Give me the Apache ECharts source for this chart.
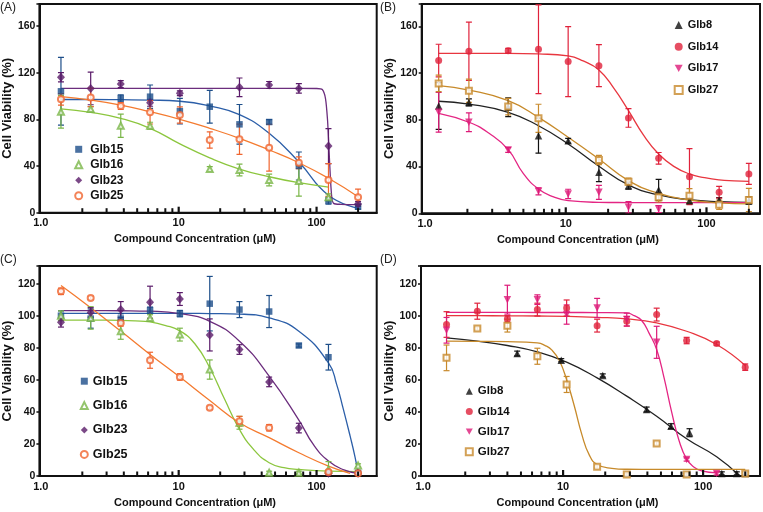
<!DOCTYPE html>
<html><head><meta charset="utf-8">
<script src="https://cdn.jsdelivr.net/npm/echarts@6/dist/echarts.min.js"></script>
<style>html,body{margin:0;padding:0;background:#fff}#c{width:763px;height:512px}</style>
</head><body><div id="c"></div>
<script>
// ---------- tick values ----------
const xMajorTicks = [10, 100];
const xLabelTicks = [1, 10, 100];
const xMinorTicks = [2,3,4,5,6,7,8,9,20,30,40,50,60,70,80,90,200];
const yTicksAB = [0, 40, 80, 120, 160];
const yTicksCD = [0, 20, 40, 60, 80, 100, 120];

// ---------- Panel A ----------
const concA = [1.4, 2.3, 3.8, 6.2, 10.2, 16.8, 27.6, 45.3, 74.4, 122, 200];
const A_Glb15 = [104, null, 98, 99.4, 87, 90.8, 75.7, 77.7, 40, 10.3, 5.1];
const A_Glb15_err = [29, null, 3, 10, 11, 14, 17, 2, 12, 3, 2];
const A_Glb16 = [86.5, 88.8, 74.5, 74.5, null, 37.4, 36.6, 28, 27.2, 13.2, null];
const A_Glb16_err = [14, 2, 10, 3, null, 2, 5, 5, 13, 3, null];
const A_Glb23 = [116, 106.5, 110.2, 94.2, 102.3, null, 107.4, 109.4, 106.5, 57.1, 7.5];
const A_Glb23_err = [4, 14, 3, 3, 2, null, 8, 3, 4, 15, 2];
const A_Glb25 = [97.1, 98.8, 91.4, 86, 83.7, 62.3, 62.9, 55.7, 42.8, 28, 13.2];
const A_Glb25_err = [5, 8, 3, 10, 7, 7, 13, 20, 5, 14, 7];
const A_fit15_x = [1.4, 2.3, 3.8, 6.2, 10.2, 16.8, 27.6, 45.3, 74.4, 122, 200];
const A_fit15_y = [97, 97, 96.8, 96.5, 95.5, 91.5, 84, 68, 43.5, 15, 3.7];
const A_fit16_x = [1.4, 2.3, 3.8, 6.2, 10.2, 16.8, 27.6, 45.3, 74.4, 122];
const A_fit16_y = [89, 86, 80.8, 72.3, 59, 47, 37.4, 30.8, 25.7, 22];
const A_fit23_x = [1.4, 2.3, 3.8, 6.2, 10.2, 16.8, 27.6, 45.3, 74.4, 100, 110, 116, 120, 123, 126, 129, 133, 150, 200];
const A_fit23_y = [106.5, 106.5, 106.5, 106.5, 106.5, 106.5, 106.5, 106.5, 106.5, 106.4, 105.5, 98, 80, 55, 30, 13, 8, 7.2, 7];
const A_fit25_x = [1.4, 2.3, 3.8, 6.2, 10.2, 16.8, 27.6, 45.3, 74.4, 122, 200];
const A_fit25_y = [99.4, 96.5, 92.2, 86.5, 80, 72.3, 63.7, 53.7, 42.8, 29.5, 13.7];

// ---------- Panel B ----------
const concB = [1.25, 2.05, 3.9, 6.4, 10.4, 17.2, 27.9, 45.7, 75.7, 123, 200];
const B_Glb8 = [91.9, 95, 90.8, 66.5, 62.2, 35.1, 23.7, 20, 10.8, 11.4, 10.8];
const B_Glb8_err = [20, 3, 8, 15, 2, 8, 3, 9, 2, 2, 3];
const B_Glb14 = [130.8, 138.8, 139.3, 140.5, 130, 126.5, 81.7, 47.1, 31.4, 18, 33.7];
const B_Glb14_err = [14, 25, 2, 38, 30, 18, 8, 5, 24, 5, 9];
const B_Glb17 = [86.5, 78, 54.2, 18.8, 16.6, 18, 5.1, 3.7, null, null, null];
const B_Glb17_err = [17, 8, 2, 3, 4, 6, 5, 3, null, null, null];
const B_Glb27 = [111.3, 105, 91.4, 81.4, null, 45.7, 27.1, 13.7, 15.1, 7.4, 11.4];
const B_Glb27_err = [7, 10, 7, 12, null, 4, 3, 4, 6, 4, 10];
const B_fit8_x = [1.25, 2.05, 3.9, 6.4, 10.4, 17.2, 27.9, 45.7, 75.7, 123, 200];
const B_fit8_y = [96, 93.6, 86.5, 75, 59.4, 40.3, 24.3, 15.7, 11.7, 10, 9.4];
const B_fit14_x = [1.25, 2.05, 3.9, 6.4, 10.4, 13.3, 17.2, 22, 27.9, 35.7, 45.7, 59, 75.7, 97, 123, 157, 200];
const B_fit14_y = [137, 137, 137, 136.5, 134.8, 130.5, 122.8, 107, 88, 67, 50.8, 40, 33.7, 30.5, 28.6, 27.8, 27.4];
const B_fit17_x = [1.25, 2.05, 2.85, 3.9, 5, 6.4, 8.2, 10.4, 17.2, 27.9, 45.7, 75.7, 123, 200];
const B_fit17_y = [85.6, 78, 68.5, 54.5, 34, 20.8, 14, 10.8, 9.4, 9.2, 9.1, 9.1, 9.1, 9.1];
const B_fit27_x = [1.25, 2.05, 3.9, 6.4, 10.4, 17.2, 27.9, 45.7, 75.7, 123, 200];
const B_fit27_y = [109.3, 105.6, 96.5, 82.2, 65.1, 46.5, 28, 17.1, 11.4, 8.9, 8];

// ---------- Panel C ----------
const concC = [1.4, 2.3, 3.8, 6.2, 10.2, 16.8, 27.6, 45.3, 74.4, 122, 200];
const C_Glb15 = [100, 98.2, 98.2, 103.4, 101.3, 107.5, 103.8, 102.6, 81.4, 74.1, 2];
const C_Glb15_err = [3, 6, 3, 2, 2, 17, 5, 10, 1, 8, 1];
const C_Glb16 = [100, 98.6, 90.3, 98.6, 88.2, 66.4, 33.2, 2, 2, 4, 6.6];
const C_Glb16_err = [3, 7, 5, 2, 4, 6, 4, 1, 1, 5, 1];
const C_Glb23 = [95.9, 102, 103.8, 108.4, 110.4, 88, 78.9, 58.7, 29.9, 1.7, 1.7];
const C_Glb23_err = [3, 3, 5, 10, 4, 10, 3, 3, 3, 1, 1];
const C_Glb25 = [115.2, 111.1, 95.5, 72.2, 61.8, 42.5, 34.2, 30.1, null, 2.5, 1.7];
const C_Glb25_err = [2, 1, 2, 5, 2, 1, 3, 2, null, 1, 1];
const C_fit15_x = [1.4, 2.3, 3.8, 6.2, 10.2, 16.8, 27.6, 45.3, 74.4, 122, 140, 156, 175, 190, 200];
const C_fit15_y = [101.5, 101.5, 101.5, 101.5, 101.5, 101.3, 101, 98.6, 90.3, 70.6, 57, 42, 25, 12, 2];
const C_fit16_x = [1.4, 2.3, 3.8, 4.85, 6.2, 7.95, 10.2, 13.1, 16.8, 21.5, 27.6, 35.4, 45.3, 58, 74.4, 122, 200];
const C_fit16_y = [97.2, 97.2, 97.1, 96.8, 96.1, 94, 90.5, 82.5, 67.5, 48, 29, 16, 8.3, 5.2, 4.1, 3, 2.7];
const C_fit23_x = [1.4, 2.3, 3.8, 6.2, 10.2, 16.8, 27.6, 45.3, 74.4, 95, 122, 156, 200];
const C_fit23_y = [103.2, 103.2, 103.1, 102.8, 101.3, 96.5, 84.1, 62.3, 34.9, 19.5, 9.3, 4, 1.7];
const C_fit25_x = [1.4, 2.3, 3.8, 6.2, 10.2, 16.8, 27.6, 45.3, 74.4, 122, 175];
const C_fit25_y = [118.8, 105, 90.4, 75.8, 61.7, 47.1, 33.2, 23.9, 14.5, 6.2, 1.7];

// ---------- Panel D ----------
const concD = [1.47, 2.44, 4.0, 6.55, 10.6, 17.5, 28.5, 46.6, 76.3, 125, 200];
const concD8 = [4.7, 9.7, 19.2, 39.5, 59, 80, 136, 174, 200];
const D_Glb8 = [76.4, 72.2, 62.7, 41.5, 31.1, 27, 1.6, 1.6, 1.6];
const D_Glb8_err = [1.5, 1, 1, 1.5, 1.5, 2.5, 1, 1, 1];
const D_Glb14 = [94.5, 102.8, 98, 103.8, 104.8, 93.8, 96.5, 100.7, 84.5, 82.6, 67.9];
const D_Glb14_err = [8, 5, 2, 4, 5, 4, 3, 4, 2, 1, 2];
const D_Glb17 = [90.9, null, 110, 110, 100.7, 104.8, 97.6, 83.4, 10.3, 1.6, null];
const D_Glb17_err = [8, null, 9, 3, 6, 6, 4, 10, 1, 1, null];
const D_Glb27 = [73.7, 92, 93.8, 74.7, 57.1, 5.8, 1, 20.3, 1, null, 1.6];
const D_Glb27_err = [8, 1, 4, 5, 5, 1, 0.5, 1, 0.5, null, 1];
const D_fit8_x = [1.47, 2.44, 4.0, 6.55, 10.6, 17.5, 28.5, 46.6, 76.3, 125, 183];
const D_fit8_y = [86.1, 84.1, 81.4, 77.4, 71, 61.2, 49.8, 37.3, 23.2, 12, 0];
const D_fit14_x = [1.47, 2.44, 4.0, 6.55, 10.6, 17.5, 28.5, 46.6, 76.3, 125, 200];
const D_fit14_y = [100, 100, 99.9, 99.8, 99.6, 99, 98, 95.5, 90.3, 82, 68.9];
const D_fit17_x = [1.47, 2.44, 4.0, 6.55, 10.6, 17.5, 28.5, 32.2, 36.4, 41.2, 46.6, 52.7, 59.6, 67.4, 76.3, 86.3, 97.6, 125];
const D_fit17_y = [102.1, 102.1, 102.1, 102, 102, 101.9, 101.7, 100, 97, 89, 78.9, 61, 40, 22, 10.5, 5.5, 3.2, 2];
const D_fit27_x = [1.47, 2.44, 4.0, 6.55, 7.4, 8.33, 9.4, 10.6, 12, 13.6, 15.4, 17.5, 22.3, 28.5, 46.6, 76.3, 125, 200];
const D_fit27_y = [84.1, 84, 83.8, 83, 81.5, 78.5, 72, 60, 44, 26, 13, 7.2, 4.8, 4.2, 4.1, 4.1, 4.1, 4.1];

// ---------- styles ----------
const FONT = '"Liberation Sans", Arial, sans-serif';
const STY = {
  Glb15: {color: '#1d4e89', fit: '#2b5ea8', symbol: 'rect', size: 6.5},
  Glb16: {color: '#7ab648', fit: '#8cc63e', symbol: 'emptyTriangle', size: 6},
  Glb23: {color: '#5a1b69', fit: '#6b2d7d', symbol: 'diamond', size: [8, 9]},
  Glb25: {color: '#f0652f', fit: '#f47b30', symbol: 'emptyCircle', size: 6},
  Glb8:  {color: '#111111', fit: '#222222', symbol: 'triangle', size: 7.5},
  Glb14: {color: '#e0223b', fit: '#e8363f', symbol: 'circle', size: 7},
  Glb17: {color: '#dd1a78', fit: '#e42583', symbol: 'triangle', size: 7.5, rotate: 180},
  Glb27: {color: '#c88a2c', fit: '#c78a2a', symbol: 'emptyRect', size: 6}
};
const SMOOTH = {A23: 0.25};

function zip(xs, ys) { const o = []; for (let i = 0; i < xs.length; i++) if (ys[i] != null) o.push([xs[i], ys[i]]); return o; }
function zip3(xs, ys, es) { const o = []; for (let i = 0; i < xs.length; i++) if (ys[i] != null && es[i] != null) o.push([xs[i], ys[i], es[i]]); return o; }

function errRender(color) {
  return function (params, api) {
    const x = api.value(0), y = api.value(1), e = api.value(2);
    const p1 = api.coord([x, y + e]), p2 = api.coord([x, y - e]);
    const w = 3, st = {stroke: color, lineWidth: 1.2};
    return {type: 'group', children: [
      {type: 'line', shape: {x1: p1[0], y1: p1[1], x2: p2[0], y2: p2[1]}, style: st},
      {type: 'line', shape: {x1: p1[0] - w, y1: p1[1], x2: p1[0] + w, y2: p1[1]}, style: st},
      {type: 'line', shape: {x1: p2[0] - w, y1: p2[1], x2: p2[0] + w, y2: p2[1]}, style: st}
    ]};
  };
}
function tickRender(len, width) {
  return function (params, api) {
    const p = api.coord([api.value(0), api.value(1)]);
    return {type: 'rect', shape: {x: p[0] - width / 2, y: p[1] - len, width: width, height: len},
      style: {fill: '#111'}};
  };
}

const series = [];
function addCompound(gi, key, name, xs, ys, es, fx, fy) {
  const st = STY[name];
  series.push({type: 'line', name: name + '-fit-' + gi, xAxisIndex: gi * 2, yAxisIndex: gi,
    data: zip(fx, fy), symbol: 'none', smooth: SMOOTH[key] != null ? SMOOTH[key] : 0.5,
    lineStyle: {color: st.fit, width: 1.3}, z: 2, silent: true});
  series.push({type: 'custom', name: name + '-err-' + gi, xAxisIndex: gi * 2, yAxisIndex: gi,
    data: zip3(xs, ys, es), renderItem: errRender(st.color), clip: true, z: 3, silent: true});
  series.push({type: 'scatter', name: name, xAxisIndex: gi * 2, yAxisIndex: gi,
    data: zip(xs, ys), symbol: st.symbol, symbolSize: st.size, symbolRotate: st.rotate || 0,
    itemStyle: {color: st.color, borderColor: st.color, borderWidth: st.symbol.indexOf('empty') === 0 ? 1 : 0},
    z: 4, clip: true});
}

addCompound(0, 'A15', 'Glb15', concA, A_Glb15, A_Glb15_err, A_fit15_x, A_fit15_y);
addCompound(0, 'A16', 'Glb16', concA, A_Glb16, A_Glb16_err, A_fit16_x, A_fit16_y);
addCompound(0, 'A23', 'Glb23', concA, A_Glb23, A_Glb23_err, A_fit23_x, A_fit23_y);
addCompound(0, 'A25', 'Glb25', concA, A_Glb25, A_Glb25_err, A_fit25_x, A_fit25_y);
addCompound(1, 'B8', 'Glb8', concB, B_Glb8, B_Glb8_err, B_fit8_x, B_fit8_y);
addCompound(1, 'B14', 'Glb14', concB, B_Glb14, B_Glb14_err, B_fit14_x, B_fit14_y);
addCompound(1, 'B17', 'Glb17', concB, B_Glb17, B_Glb17_err, B_fit17_x, B_fit17_y);
addCompound(1, 'B27', 'Glb27', concB, B_Glb27, B_Glb27_err, B_fit27_x, B_fit27_y);
addCompound(2, 'C15', 'Glb15', concC, C_Glb15, C_Glb15_err, C_fit15_x, C_fit15_y);
addCompound(2, 'C16', 'Glb16', concC, C_Glb16, C_Glb16_err, C_fit16_x, C_fit16_y);
addCompound(2, 'C23', 'Glb23', concC, C_Glb23, C_Glb23_err, C_fit23_x, C_fit23_y);
addCompound(2, 'C25', 'Glb25', concC, C_Glb25, C_Glb25_err, C_fit25_x, C_fit25_y);
addCompound(3, 'D8', 'Glb8', concD8, D_Glb8, D_Glb8_err, D_fit8_x, D_fit8_y);
addCompound(3, 'D14', 'Glb14', concD, D_Glb14, D_Glb14_err, D_fit14_x, D_fit14_y);
addCompound(3, 'D17', 'Glb17', concD, D_Glb17, D_Glb17_err, D_fit17_x, D_fit17_y);
addCompound(3, 'D27', 'Glb27', concD, D_Glb27, D_Glb27_err, D_fit27_x, D_fit27_y);

const GRIDS = [
  {left: 36, top: 4, width: 340.7, height: 208.7, xmin: 0.977, xmax: 273, ymax: 178.8, yi: 40, yt: yTicksAB},
  {left: 421.7, top: 4, width: 338.3, height: 209.3, xmin: 0.947, xmax: 240, ymax: 179.3, yi: 40, yt: yTicksAB},
  {left: 36, top: 266, width: 340.7, height: 210, xmin: 0.977, xmax: 273, ymax: 131, yi: 20, yt: yTicksCD},
  {left: 421, top: 266, width: 339, height: 210, xmin: 0.966, xmax: 255, ymax: 131, yi: 20, yt: yTicksCD}
];

const grid = [], xAxis = [], yAxis = [];
GRIDS.forEach(function (g, i) {
  grid.push({left: g.left, top: g.top, width: g.width, height: g.height, show: true,
    borderColor: '#111', borderWidth: 2, backgroundColor: 'transparent', containLabel: false});
  xAxis.push({type: 'log', logBase: 10, gridIndex: i, min: g.xmin, max: g.xmax, position: 'bottom',
    name: 'Compound Concentration (μM)', nameLocation: 'middle', nameGap: 21,
    nameTextStyle: {fontFamily: FONT, fontSize: 11, fontWeight: 'bold', color: '#111', padding: [0, 26, 0, 0]},
    axisLine: {show: true, lineStyle: {color: '#111', width: 2}},
    axisTick: {show: false},
    axisLabel: {show: true, customValues: xLabelTicks, margin: 5, fontFamily: FONT, fontSize: 11, fontWeight: 'bold', color: '#111',
      formatter: function (v) { return Math.abs(v - 1) < 1e-6 ? '1.0' : String(Math.round(v)); }},
    splitLine: {show: false}});
  xAxis.push({type: 'log', logBase: 10, gridIndex: i, min: g.xmin, max: g.xmax, position: 'bottom', show: false});
  yAxis.push({type: 'value', gridIndex: i, min: 0, max: g.ymax, interval: g.yi,
    name: 'Cell Viability (%)', nameLocation: 'middle', nameGap: 20,
    nameTextStyle: {fontFamily: FONT, fontSize: 13, fontWeight: 'bold', color: '#111'},
    axisLine: {show: true, lineStyle: {color: '#111', width: 2}},
    axisTick: {show: true, inside: false, length: 3, lineStyle: {color: '#111', width: 1.5}},
    axisLabel: {customValues: g.yt, margin: 4, fontFamily: FONT, fontSize: 10.5, fontWeight: 'bold', color: '#111'},
    splitLine: {show: false}});
  // x-axis tick marks, positioned through the log axis from the tick arrays
  series.push({type: 'custom', name: 'minorTicks' + i, xAxisIndex: i * 2, yAxisIndex: i, silent: true,
    data: xMinorTicks.map(function (v) { return [v, 0]; }), renderItem: tickRender(4.5, 2), clip: false, z: 8});
  series.push({type: 'custom', name: 'majorTicks' + i, xAxisIndex: i * 2, yAxisIndex: i, silent: true,
    data: xMajorTicks.map(function (v) { return [v, 0]; }), renderItem: tickRender(6, 2.2), clip: false, z: 8});
});

const TRI_DOWN = 'path://M0,0L10,0L5,9Z';
function legendFor(names, left, top, gap, fs, pad, iw) {
  return {data: names.map(function (n) { return n === 'Glb17' ? {name: n, icon: TRI_DOWN} : n; }),
    orient: 'vertical', left: left, top: top, itemGap: gap, itemWidth: iw, itemHeight: iw,
    padding: 0, selectedMode: false,
    textStyle: {fontFamily: FONT, fontSize: fs, fontWeight: 'bold', color: '#111', padding: [0, 0, 0, pad]}};
}

const option = {
  animation: false,
  backgroundColor: '#fff',
  title: [
    {text: '(A)', left: 0, top: 2, padding: 0, textStyle: {fontFamily: FONT, fontSize: 12, fontWeight: 'normal', color: '#222'}},
    {text: '(B)', left: 380, top: 2, padding: 0, textStyle: {fontFamily: FONT, fontSize: 12, fontWeight: 'normal', color: '#222'}},
    {text: '(C)', left: 0, top: 254, padding: 0, textStyle: {fontFamily: FONT, fontSize: 12, fontWeight: 'normal', color: '#222'}},
    {text: '(D)', left: 380, top: 254, padding: 0, textStyle: {fontFamily: FONT, fontSize: 12, fontWeight: 'normal', color: '#222'}}
  ],
  legend: [
    legendFor(['Glb15', 'Glb16', 'Glb23', 'Glb25'], 74.2, 143.3, 3.5, 12, 3, 7),
    legendFor(['Glb8', 'Glb14', 'Glb17', 'Glb27'], 673.7, 19.5, 10.7, 11, 0, 8),
    legendFor(['Glb15', 'Glb16', 'Glb23', 'Glb25'], 79.8, 374.7, 11.4, 12.5, 0, 7),
    legendFor(['Glb8', 'Glb14', 'Glb17', 'Glb27'], 464.8, 385.2, 8.2, 11.5, 0, 7)
  ],
  grid: grid,
  xAxis: xAxis,
  yAxis: yAxis,
  series: series
};

const chart = echarts.init(document.getElementById('c'), null, {renderer: 'canvas'});
chart.setOption(option);
</script></body></html>
